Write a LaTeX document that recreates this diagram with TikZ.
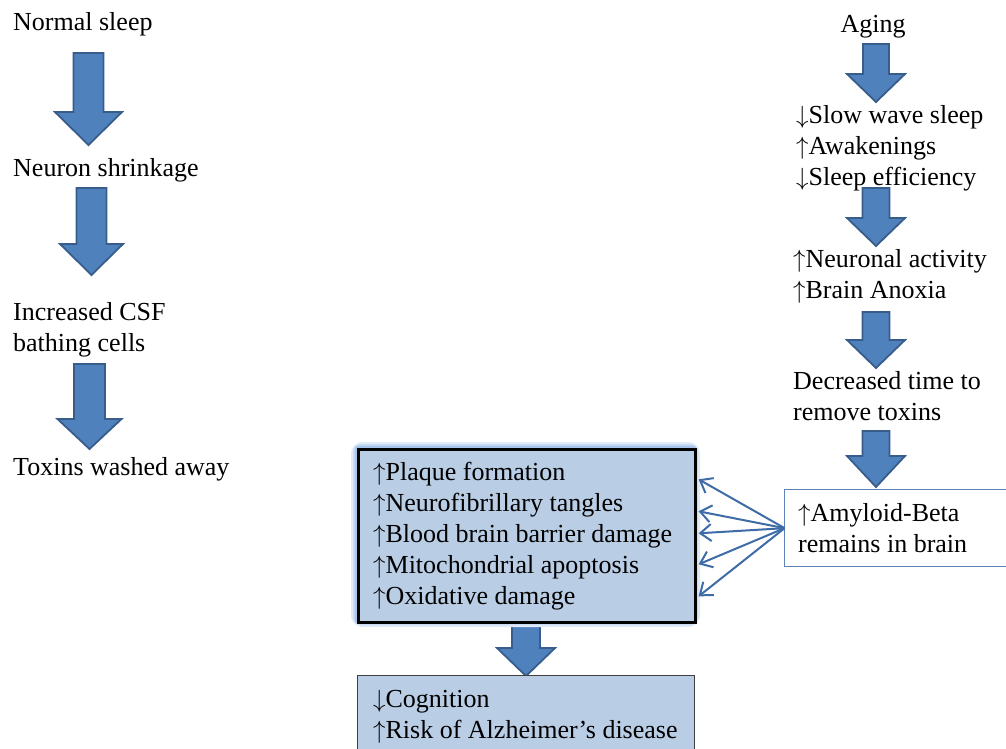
\documentclass[tikz,border=0pt]{standalone}
\usepackage{fontspec}
\setmainfont{Liberation Serif}
\usetikzlibrary{arrows.meta,calc}
\definecolor{arrowfill}{HTML}{4F81BD}
\definecolor{arrowline}{HTML}{385D8A}
\definecolor{boxfill}{HTML}{B9CDE5}
\definecolor{glowc}{HTML}{A9C6EC}
\definecolor{linkc}{HTML}{3E6CA6}
\definecolor{amyline}{HTML}{5B83B8}
\newcommand{\arrup}{$\uparrow$}
\newcommand{\arrdn}{$\downarrow$}
\tikzset{
  txt/.style={font={\fontsize{26}{31.2}\selectfont}, inner sep=0pt, anchor=base west, align=left},
  blockarrow/.style={fill=arrowfill, draw=arrowline, line width=1.8pt, line join=miter},
  effectbox/.style={draw=black, line width=2.6pt, fill=boxfill},
  resultbox/.style={draw=black!75, line width=1.2pt, fill=boxfill},
  amybox/.style={draw=amyline, line width=1.3pt, fill=white},
  link/.style={draw=linkc, line width=2pt, -{Straight Barb[length=11pt,width=17pt,line width=2pt]}},
}
% #1 centre x, #2 top, #3 head start, #4 tip, #5 shaft half width, #6 head half width
\newcommand{\bigdownarrow}[6]{%
  \path[blockarrow] (#1-#5,#2) -- (#1+#5,#2) -- (#1+#5,#3) -- (#1+#6,#3) -- (#1,#4)
    -- (#1-#6,#3) -- (#1-#5,#3) -- cycle;}
\begin{document}
\begin{tikzpicture}[x=1pt,y=-1pt]
\clip (0,0) rectangle (1006,748);
\fill[white] (0,0) rectangle (1006,748);

% left column (multi-line nodes are placed by the baseline of their last line)
\node[txt] (normal) at (13,30) {Normal sleep};
\node[txt] (shrink) at (13,176) {Neuron shrinkage};
\node[txt] (csf) at (13,351.2) {Increased CSF\\bathing cells};
\node[txt] (toxins) at (13,475) {Toxins washed away};
\bigdownarrow{88.5}{53}{112}{145}{15}{33.5}
\bigdownarrow{91.5}{188}{244}{275}{15}{31.5}
\bigdownarrow{89.5}{364}{419}{449}{15.5}{32}

% right column
\node[txt, anchor=base] (aging) at (873,32) {Aging};
\node[txt] (sleep) at (796,185.4) {\arrdn Slow wave sleep\\\arrup Awakenings\\\arrdn Sleep efficiency};
\node[txt] (neuro) at (793,298.2) {\arrup Neuronal activity\\\arrup Brain Anoxia};
\node[txt] (decr) at (793,420.2) {Decreased time to\\remove toxins};
\bigdownarrow{876}{44}{74}{102}{13}{29}
\bigdownarrow{876}{188}{218}{246}{13.5}{29}
\bigdownarrow{876}{312}{340}{368}{13.5}{29}
\bigdownarrow{876}{431}{456}{487}{13.5}{29}

% amyloid box
\node[amybox, anchor=north west, minimum width=226pt, minimum height=77pt, inner sep=0pt] (amy) at (784,489) {};
\node[txt] (amytext) at (798,552.2) {\arrup Amyloid-Beta\\remains in brain};

% middle arrow to result
\bigdownarrow{526}{622}{648}{676}{14}{29}

% effects box with glow
\draw[glowc!35, line width=12pt, rounded corners=6pt] (357,448) rectangle (694,621);
\draw[glowc!60, line width=8pt, rounded corners=4pt] (357,448) rectangle (694,621);
\draw[glowc, line width=5pt, rounded corners=2pt] (357,448) rectangle (694,621);
\node[effectbox, anchor=north west, minimum width=337pt, minimum height=173pt, inner sep=0pt] (effects) at (357,448) {};
\node[txt] (effectstext) at (373,604.8) {\arrup Plaque formation\\\arrup Neurofibrillary tangles\\\arrup Blood brain barrier damage\\\arrup Mitochondrial apoptosis\\\arrup Oxidative damage};

% result box
\node[resultbox, anchor=north west, minimum width=337pt, minimum height=90pt, inner sep=0pt] (result) at (357,675) {};
\node[txt] (resulttext) at (373,738.2) {\arrdn Cognition\\\arrup Risk of Alzheimer’s disease};

% connectors
\coordinate (src) at ([xshift=0.6pt]amy.west);
\draw[link] (src) -- ([xshift=2pt,yshift=56.5pt]effects.east);
\draw[link] (src) -- ([xshift=2pt,yshift=24.5pt]effects.east);
\draw[link] (src) -- ([xshift=2pt,yshift=2.5pt]effects.east);
\draw[link] (src) -- ([xshift=2pt,yshift=-28.5pt]effects.east);
\draw[link] (src) -- ([xshift=2pt,yshift=-60.5pt]effects.east);
\end{tikzpicture}
\end{document}
